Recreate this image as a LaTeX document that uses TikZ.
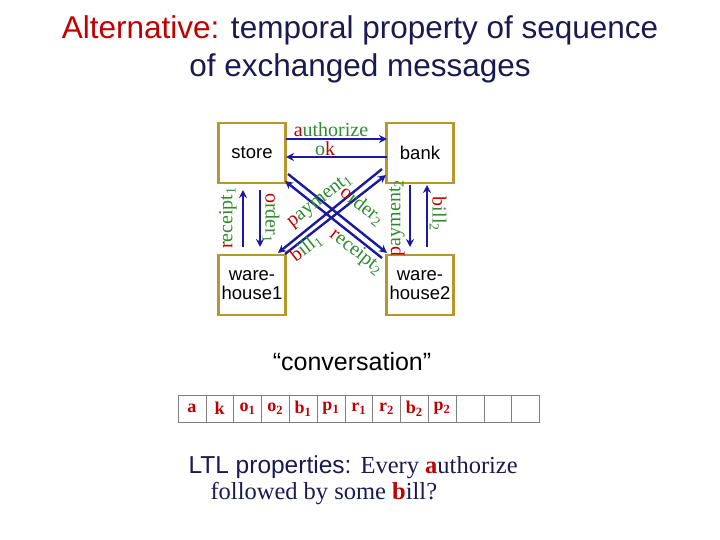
\documentclass[tikz,border=0pt]{standalone}
\usepackage{fontspec}
\setmainfont{Liberation Sans}
\newfontfamily\serf{Liberation Serif}
\usetikzlibrary{arrows.meta}
\definecolor{gold}{HTML}{B8962E}
\definecolor{arr}{HTML}{1A1AA0}
\definecolor{grn}{HTML}{2E8B2E}
\definecolor{rd}{HTML}{C00000}
\definecolor{nv}{HTML}{1A1A50}
\tikzset{box/.style={draw=gold,line width=2.2pt,minimum width=67pt,minimum height=60pt,font=\fontsize{18.5}{19}\selectfont,align=center,inner sep=0pt},
msg/.style={draw=arr,line width=2.4pt,-{Stealth[length=8pt,width=8pt]}},
lab/.style={font=\serf\fontsize{20}{20}\selectfont,text=grn,inner sep=0pt},
cell/.style={draw=gray,minimum width=27.8pt,minimum height=27pt,inner sep=0pt,font=\serf\bfseries\fontsize{18}{18}\selectfont,text=rd}}
\newcommand{\R}[1]{\textcolor{rd}{#1}}
\begin{document}
\begin{tikzpicture}[x=1pt,y=-1pt]
\useasboundingbox (0,0) rectangle (720,540);
\node[font=\fontsize{31.5}{38}\selectfont,text=nv,align=center] (title) at (360,49) {\R{Alternative:} temporal property of sequence\\of exchanged messages};
\node[box] (st) at (252,153) {store};
\node[box] (bk) at (420,153) {bank};
\node[box] (w1) at (252,285) {ware-\\house1};
\node[box] (w2) at (420,285) {ware-\\house2};
\coordinate (a1) at (286,139); \coordinate (a2) at (387,139);
\coordinate (k1) at (387,157); \coordinate (k2) at (286,157);
\draw[msg] (a1) -- (a2);
\draw[msg] (k1) -- (k2);
\coordinate (o1s) at (260,190); \coordinate (o1e) at (260,247);
\coordinate (r1s) at (243,247); \coordinate (r1e) at (243,190);
\draw[msg] (o1s) -- (o1e);
\draw[msg] (r1s) -- (r1e);
\coordinate (p2s) at (410,185); \coordinate (p2e) at (410,247);
\coordinate (b2s) at (427,247); \coordinate (b2e) at (427,185);
\draw[msg] (p2s) -- (p2e);
\draw[msg] (b2s) -- (b2e);
\coordinate (o2s) at (288,174); \coordinate (o2e) at (387,253);
\coordinate (r2s) at (382,258); \coordinate (r2e) at (285,181);
\draw[msg] (o2s) -- (o2e);
\draw[msg] (r2s) -- (r2e);
\coordinate (p1s) at (285,254); \coordinate (p1e) at (386,175);
\coordinate (b1s) at (382,169); \coordinate (b1e) at (278,253);
\draw[msg] (p1s) -- (p1e);
\draw[msg] (b1s) -- (b1e);
\node[lab] (la) at (331,130) {\R{a}uthorize};
\node[lab] (lk) at (325,149) {o\R{k}};
\node[lab,rotate=90] (lr1) at (228,218) {\R{r}eceipt\textsubscript{1}};
\node[lab,rotate=-90] (lo1) at (271,218) {\R{o}rder\textsubscript{1}};
\node[lab,rotate=90] (lp2) at (397,218) {\R{p}ayment\textsubscript{2}};
\node[lab,rotate=-90] (lb2) at (438,214) {\R{b}ill\textsubscript{2}};
\node[lab,rotate=38] (lp1) at (320,201) {\R{p}ayment\textsubscript{1}};
\node[lab,rotate=-38] (lo2) at (362,206) {\R{o}rder\textsubscript{2}};
\node[lab,rotate=38] (lb1) at (306,248) {\R{b}ill\textsubscript{1}};
\node[lab,rotate=-38] (lr2) at (356,252) {\R{r}eceipt\textsubscript{2}};
\node[font=\fontsize{25}{28}\selectfont] (conv) at (352,362) {“conversation”};
\foreach \t [count=\i] in {a,k,o\textsubscript{1},o\textsubscript{2},b\textsubscript{1},p\textsubscript{1},r\textsubscript{1},r\textsubscript{2},b\textsubscript{2},p\textsubscript{2},,,}
  \node[cell] (c\i) at ({178+13.9+27.8*(\i-1)},408.5) {\t};
\node[anchor=west,text=nv,font=\fontsize{24.5}{26}\selectfont,align=left] (ltl) at (185,480) {LTL properties: {\serf Every \textbf{\R{a}}uthorize}\\\hspace{22pt}{\serf followed by some \textbf{\R{b}}ill?}};
\end{tikzpicture}
\end{document}
